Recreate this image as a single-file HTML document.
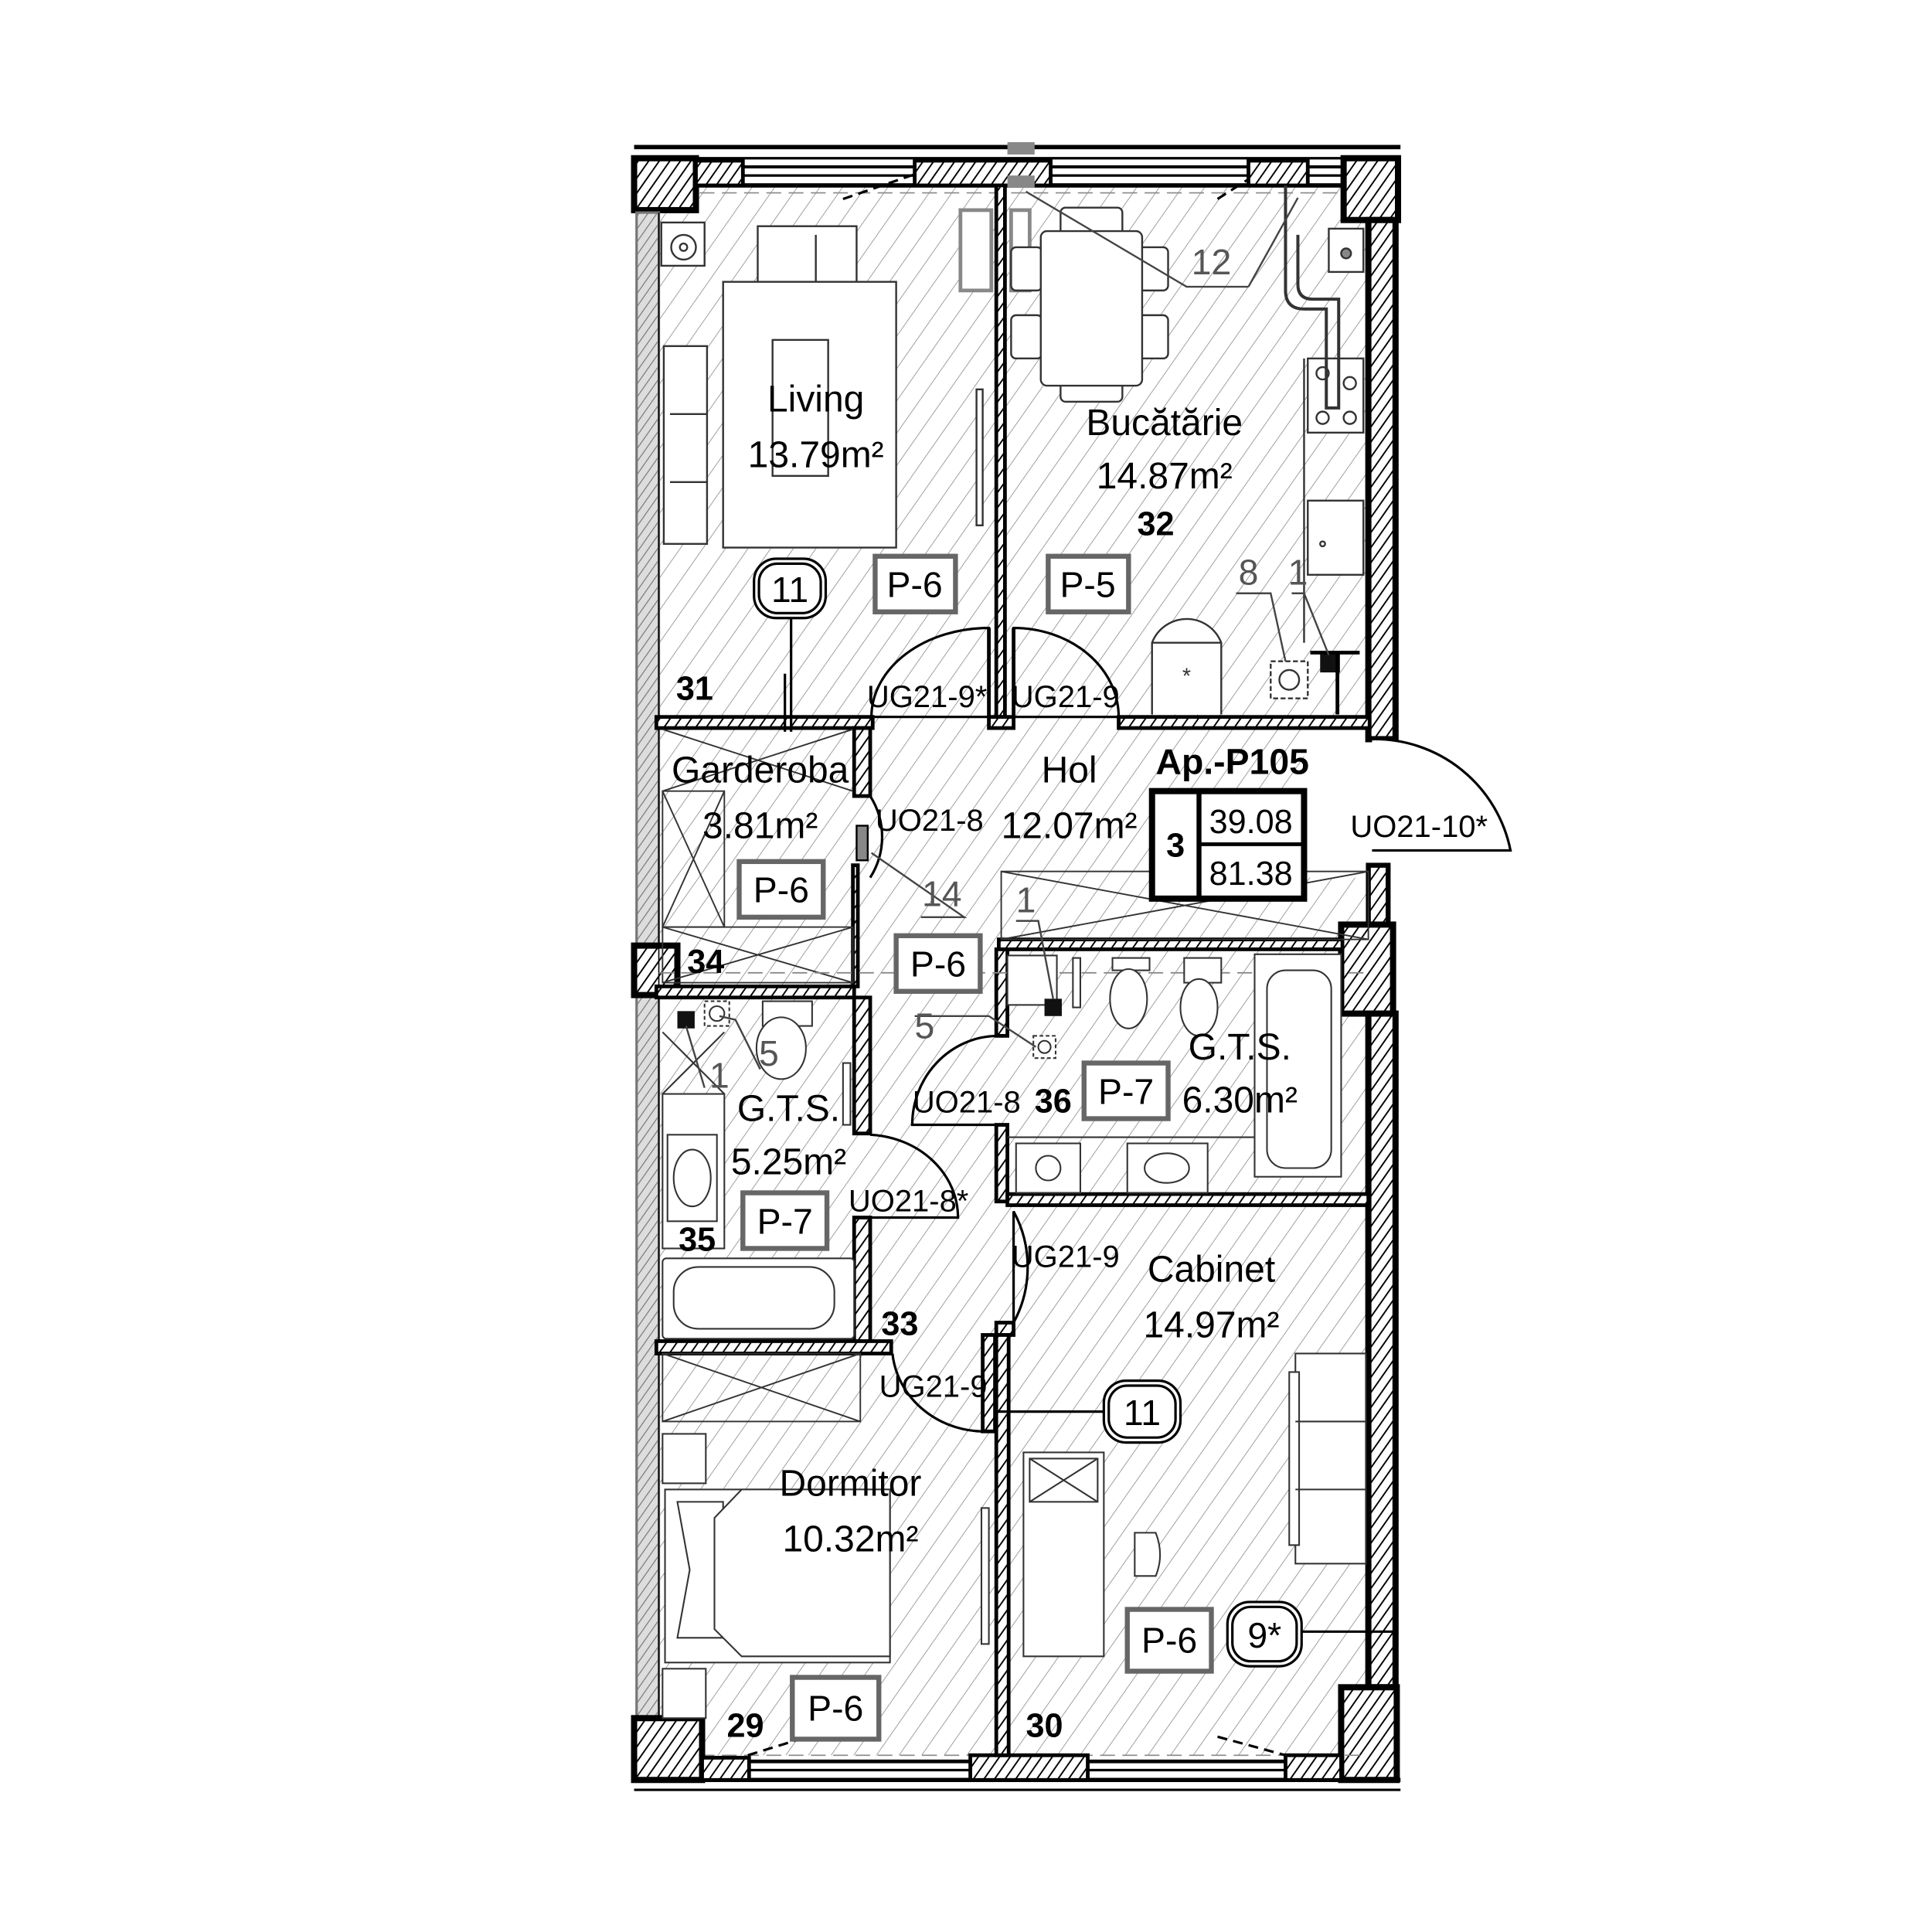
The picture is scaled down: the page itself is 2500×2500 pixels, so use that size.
<!DOCTYPE html>
<html><head><meta charset="utf-8">
<style>
html,body{margin:0;padding:0;background:#fff;}
svg{display:block;}
text{font-family:"Liberation Sans",sans-serif;}
</style></head>
<body>
<svg width="2500" height="2500" viewBox="0 0 1563 1563" xmlns="http://www.w3.org/2000/svg">
<defs>
<pattern id="h" patternUnits="userSpaceOnUse" width="15" height="15" patternTransform="rotate(35)">
<line x1="0" y1="0" x2="0" y2="15" stroke="#888" stroke-width="1"/>
</pattern>
<pattern id="w" patternUnits="userSpaceOnUse" width="7" height="7" patternTransform="rotate(35)">
<rect width="7" height="7" fill="#fff"/>
<line x1="0" y1="0" x2="0" y2="7" stroke="#000" stroke-width="2.4"/>
</pattern>
<pattern id="g" patternUnits="userSpaceOnUse" width="6" height="6" patternTransform="rotate(35)">
<rect width="6" height="6" fill="#ddd"/>
<line x1="0" y1="0" x2="0" y2="6" stroke="#777" stroke-width="1.5"/>
</pattern>
</defs>
<rect width="1563" height="1563" fill="#fff"/>

<rect x="530" y="150" width="580" height="1270" fill="url(#h)"/>
<rect x="1055" y="590" width="55" height="120" fill="#fff"/>

<g stroke="#000" fill="none">
<line x1="513" y1="119" x2="1133" y2="119" stroke-width="3.5"/>
<line x1="513" y1="128" x2="1133" y2="128" stroke-width="2"/>
<line x1="560" y1="135" x2="1085" y2="135" stroke-width="2.5"/>
<line x1="560" y1="142" x2="1085" y2="142" stroke-width="2"/>
<line x1="560" y1="150" x2="1085" y2="150" stroke-width="3.5"/>
<line x1="530" y1="156" x2="1105" y2="156" stroke-width="1" stroke="#888" stroke-dasharray="12 6"/>
<line x1="682" y1="161" x2="740" y2="141" stroke-width="2" stroke-dasharray="8 5"/>
<line x1="985" y1="161" x2="1010" y2="145" stroke-width="2" stroke-dasharray="8 5"/>
</g>
<rect x="513" y="128" width="50" height="42" fill="url(#w)" stroke="#000" stroke-width="5"/>
<rect x="563" y="130" width="38" height="20" fill="url(#w)" stroke="#000" stroke-width="3"/>
<rect x="740" y="130" width="110" height="20" fill="url(#w)" stroke="#000" stroke-width="3"/>
<rect x="1010" y="130" width="48" height="20" fill="url(#w)" stroke="#000" stroke-width="3"/>
<rect x="1087" y="128" width="44" height="50" fill="url(#w)" stroke="#000" stroke-width="5"/>
<rect x="815" y="115" width="22" height="10" fill="#888"/>
<rect x="815" y="142" width="22" height="10" fill="#888"/>

<rect x="515" y="172" width="18" height="595" fill="url(#g)" stroke="#777" stroke-width="2"/>
<rect x="515" y="805" width="18" height="585" fill="url(#g)" stroke="#777" stroke-width="2"/>
<rect x="513" y="765" width="35" height="40" fill="url(#w)" stroke="#000" stroke-width="5"/>
<line x1="533" y1="172" x2="533" y2="1390" stroke="#000" stroke-width="1"/>

<rect x="1107" y="178" width="22" height="420" fill="url(#w)" stroke="#000" stroke-width="5"/>
<rect x="1107" y="700" width="16" height="50" fill="url(#w)" stroke="#000" stroke-width="4"/>
<rect x="1085" y="748" width="42" height="72" fill="url(#w)" stroke="#000" stroke-width="5"/>
<rect x="1107" y="820" width="22" height="545" fill="url(#w)" stroke="#000" stroke-width="5"/>
<path d="M1110 598 A112 112 0 0 1 1222 688 L1110 688" fill="#fff" stroke="#000" stroke-width="2"/>
<rect x="1085" y="1365" width="45" height="75" fill="url(#w)" stroke="#000" stroke-width="5"/>

<g stroke="#000" fill="none">
<line x1="530" y1="1420" x2="1105" y2="1420" stroke-width="1" stroke="#888" stroke-dasharray="12 6"/>
<line x1="570" y1="1425" x2="1085" y2="1425" stroke-width="3"/>
<line x1="570" y1="1432" x2="1085" y2="1432" stroke-width="2"/>
<line x1="513" y1="1440" x2="1133" y2="1440" stroke-width="3.5"/>
<line x1="513" y1="1448" x2="1133" y2="1448" stroke-width="2"/>
<line x1="605" y1="1420" x2="660" y2="1403" stroke-width="2" stroke-dasharray="8 5"/>
<line x1="985" y1="1405" x2="1040" y2="1420" stroke-width="2" stroke-dasharray="8 5"/>
</g>
<rect x="513" y="1390" width="55" height="50" fill="url(#w)" stroke="#000" stroke-width="5"/>
<rect x="568" y="1422" width="38" height="18" fill="url(#w)" stroke="#000" stroke-width="3"/>
<rect x="785" y="1420" width="95" height="20" fill="url(#w)" stroke="#000" stroke-width="3"/>
<rect x="1040" y="1420" width="45" height="20" fill="url(#w)" stroke="#000" stroke-width="3"/>

<g fill="url(#w)" stroke="#000" stroke-width="3">
<rect x="806" y="150" width="7" height="430"/>
<rect x="531" y="580" width="175" height="9"/>
<rect x="800" y="580" width="20" height="9"/>
<rect x="905" y="580" width="203" height="9"/>
<rect x="691" y="589" width="13" height="55"/>
<rect x="531" y="798" width="160" height="9"/>
<rect x="690" y="700" width="4" height="98"/>
<rect x="691" y="807" width="13" height="110"/>
<rect x="691" y="985" width="13" height="100"/>
<rect x="531" y="1085" width="190" height="10"/>
<rect x="808" y="760" width="278" height="8"/>
<rect x="806" y="768" width="9" height="70"/>
<rect x="806" y="910" width="9" height="62"/>
<rect x="815" y="966" width="292" height="9"/>
<rect x="806" y="1070" width="14" height="10"/>
<rect x="806" y="1080" width="10" height="340"/>
<rect x="795" y="1080" width="10" height="78"/>
</g>

<g fill="#fff" stroke="#000" stroke-width="2">
<path d="M800 508 L800 580 L705 580 A95 72 0 0 1 800 508 Z" fill="none"/>
<path d="M820 508 L820 580 L905 580 A85 72 0 0 0 820 508 Z" fill="none"/>
<path d="M704 644 A72 66 0 0 1 704 710" fill="none"/>
<path d="M704 918 A75 67 0 0 1 775 985 L704 985" fill="none"/>
<path d="M806 838 A70 72 0 0 0 738 910 L806 910" fill="none"/>
<path d="M820 980 A85 90 0 0 1 820 1070 Z" fill="none"/>
<path d="M800 1158 A75 70 0 0 1 722 1095" fill="none"/>
</g>
<g stroke="#000" stroke-width="3"><line x1="800" y1="508" x2="800" y2="580"/><line x1="820" y1="508" x2="820" y2="580"/></g>

<g fill="#fff" stroke="#333" stroke-width="1.5">
<rect x="535" y="180" width="35" height="35"/><circle cx="553" cy="200" r="10" fill="none"/><circle cx="553" cy="200" r="3" fill="none"/>
<rect x="613" y="183" width="80" height="45"/><line x1="660" y1="190" x2="660" y2="228"/>
<rect x="585" y="228" width="140" height="215"/>
<rect x="625" y="275" width="45" height="110" fill="none"/>
<rect x="537" y="280" width="35" height="160"/>
<line x1="542" y1="335" x2="572" y2="335"/><line x1="542" y1="390" x2="572" y2="390"/>
<rect x="790" y="315" width="5" height="110"/>
<rect x="777" y="170" width="25" height="65" stroke="#888" stroke-width="3"/>
<rect x="818" y="170" width="15" height="65" stroke="#888" stroke-width="3"/>
</g>
<g fill="#fff" stroke="#333" stroke-width="1.5">
<rect x="858" y="168" width="50" height="25" rx="4"/>
<rect x="858" y="300" width="50" height="25" rx="4"/>
<rect x="818" y="200" width="25" height="35" rx="4"/><rect x="818" y="255" width="25" height="35" rx="4"/>
<rect x="920" y="200" width="25" height="35" rx="4"/><rect x="920" y="255" width="25" height="35" rx="4"/>
<rect x="842" y="187" width="82" height="125" rx="5"/>
<rect x="1075" y="185" width="28" height="35"/><circle cx="1089" cy="205" r="4" fill="#888"/>
<rect x="1058" y="290" width="45" height="60"/>
<circle cx="1070" cy="302" r="5"/><circle cx="1092" cy="310" r="5"/><circle cx="1070" cy="338" r="5"/><circle cx="1092" cy="338" r="5"/>
<rect x="1058" y="405" width="45" height="60"/><circle cx="1070" cy="440" r="2"/>
<line x1="1055" y1="290" x2="1055" y2="520"/>
<path d="M932 578 L932 520 A30 30 0 0 1 988 520 L988 578"/><line x1="932" y1="520" x2="988" y2="520"/>
<rect x="1028" y="535" width="30" height="30" stroke-dasharray="4 2"/><circle cx="1043" cy="550" r="8" fill="none"/>
<path d="M1050 190 L1050 230 Q1050 242 1062 242 L1083 242 L1083 330 L1073 330 L1073 250 L1055 250 Q1040 250 1040 235 L1040 150" fill="none" stroke-width="2.5"/>
</g>
<text x="960" y="553" font-size="18" text-anchor="middle" fill="#333">*</text>
<rect x="1068" y="528" width="16" height="16" fill="#111"/>
<line x1="1060" y1="528" x2="1100" y2="528" stroke="#000" stroke-width="3"/>
<line x1="1082" y1="528" x2="1082" y2="578" stroke="#000" stroke-width="3"/>

<g fill="none" stroke="#333" stroke-width="1.2">
<rect x="536" y="640" width="50" height="110"/><line x1="536" y1="640" x2="586" y2="750"/><line x1="586" y1="640" x2="536" y2="750"/>
<rect x="536" y="750" width="154" height="45"/><line x1="536" y1="750" x2="690" y2="795"/><line x1="690" y1="750" x2="536" y2="795"/>
<line x1="536" y1="590" x2="690" y2="640"/><line x1="690" y1="590" x2="536" y2="640"/>
<rect x="810" y="705" width="297" height="55"/><line x1="810" y1="705" x2="1107" y2="760"/><line x1="1107" y1="705" x2="810" y2="760"/>
<rect x="536" y="1095" width="160" height="55"/><line x1="536" y1="1095" x2="696" y2="1150"/><line x1="696" y1="1095" x2="536" y2="1150"/>
<line x1="533" y1="787" x2="1107" y2="787" stroke="#888" stroke-dasharray="12 6"/>
</g>
<rect x="693" y="668" width="9" height="28" fill="#888" stroke="#000" stroke-width="1.5"/>

<g fill="#fff" stroke="#333" stroke-width="1.3">
<rect x="570" y="810" width="20" height="20" stroke-dasharray="3 2"/><circle cx="580" cy="820" r="6"/>
<rect x="617" y="810" width="40" height="20"/><ellipse cx="632" cy="848" rx="20" ry="25"/>
<rect x="536" y="885" width="50" height="125"/><rect x="540" y="918" width="40" height="70"/><ellipse cx="560" cy="953" rx="15" ry="23"/>
<line x1="536" y1="885" x2="586" y2="835"/><line x1="536" y1="835" x2="586" y2="885"/>
<rect x="682" y="860" width="6" height="50"/>
<rect x="536" y="1018" width="155" height="65" rx="3"/><rect x="545" y="1025" width="130" height="50" rx="20"/>
</g>
<rect x="548" y="818" width="14" height="14" fill="#111"/>

<g fill="#fff" stroke="#333" stroke-width="1.3">
<rect x="815" y="773" width="40" height="40"/>
<rect x="836" y="838" width="18" height="18" stroke-dasharray="3 2"/><circle cx="845" cy="847" r="5"/>
<rect x="868" y="775" width="6" height="40"/>
<rect x="900" y="775" width="30" height="10"/><ellipse cx="913" cy="808" rx="15" ry="24"/>
<rect x="958" y="775" width="30" height="20"/><ellipse cx="970" cy="815" rx="15" ry="23"/>
<rect x="1015" y="772" width="70" height="180"/><rect x="1025" y="785" width="52" height="160" rx="15"/>
<line x1="815" y1="920" x2="1015" y2="920"/>
<rect x="822" y="925" width="52" height="40"/><circle cx="848" cy="945" r="10" fill="none"/>
<rect x="912" y="925" width="65" height="40"/><ellipse cx="944" cy="945" rx="18" ry="12"/>
</g>
<rect x="845" y="808" width="14" height="14" fill="#111"/>

<g fill="#fff" stroke="#333" stroke-width="1.3">
<rect x="536" y="1160" width="35" height="40"/>
<rect x="538" y="1205" width="182" height="140"/>
<path d="M548 1215 L585 1215 L585 1325 L548 1325 L558 1270 Z"/>
<path d="M600 1205 L720 1205 L720 1340 L600 1340 L578 1318 L578 1228 Z"/>
<rect x="794" y="1220" width="6" height="110"/>
<rect x="536" y="1350" width="35" height="40"/>
</g>
<g fill="#fff" stroke="#333" stroke-width="1.3">
<rect x="828" y="1175" width="65" height="165"/><rect x="833" y="1180" width="55" height="35"/>
<line x1="833" y1="1180" x2="888" y2="1215"/><line x1="888" y1="1180" x2="833" y2="1215"/>
<path d="M918 1240 L935 1240 Q942 1258 935 1275 L918 1275 Z"/>
<rect x="1048" y="1095" width="57" height="170"/><rect x="1043" y="1110" width="8" height="140"/>
<line x1="1048" y1="1150" x2="1105" y2="1150"/><line x1="1048" y1="1205" x2="1105" y2="1205"/>
</g>
<line x1="805" y1="1142" x2="895" y2="1142" stroke="#000" stroke-width="2"/>
<line x1="1040" y1="1320" x2="1130" y2="1320" stroke="#000" stroke-width="2"/>
<line x1="635" y1="545" x2="635" y2="592" stroke="#000" stroke-width="2"/>
<line x1="640" y1="497" x2="640" y2="592" stroke="#000" stroke-width="2"/>

<g stroke="#444" stroke-width="1.5" fill="none">
<path d="M1010 232 L960 232 L830 155"/><path d="M1010 232 L1050 160"/>
<path d="M1000 480 L1028 480 L1040 535"/><path d="M1045 480 L1055 480 L1075 530"/>
<path d="M745 742 L780 742 L705 690"/>
<path d="M822 745 L840 745 L852 808"/>
<path d="M740 822 L800 822 L838 847"/>
<path d="M570 880 L555 830"/><path d="M615 865 L595 825 L582 822"/>
</g>

<g font-size="30" fill="#000" text-anchor="middle">
<text x="660" y="333">Living</text><text x="660" y="378">13.79m²</text>
<text x="942" y="352">Bucătărie</text><text x="942" y="395">14.87m²</text>
<text x="615" y="633">Garderoba</text><text x="615" y="678">3.81m²</text>
<text x="865" y="633">Hol</text><text x="865" y="678">12.07m²</text>
<text x="638" y="907">G.T.S.</text><text x="638" y="950">5.25m²</text>
<text x="1003" y="857">G.T.S.</text><text x="1003" y="900">6.30m²</text>
<text x="980" y="1037">Cabinet</text><text x="980" y="1082">14.97m²</text>
<text x="688" y="1210">Dormitor</text><text x="688" y="1255">10.32m²</text>
</g>
<g font-size="25" fill="#000" text-anchor="middle">
<text x="750" y="572">UG21-9*</text><text x="862" y="572">UG21-9</text>
<text x="752" y="672">UO21-8</text><text x="1148" y="677">UO21-10*</text>
<text x="782" y="900">UO21-8</text><text x="735" y="980">UO21-8*</text>
<text x="862" y="1025">UG21-9</text><text x="755" y="1130">UG21-9</text>
</g>
<g font-size="29" fill="#555" text-anchor="middle">
<text x="980" y="222">12</text><text x="1010" y="473">8</text><text x="1050" y="473">1</text>
<text x="762" y="733">14</text><text x="830" y="738">1</text><text x="748" y="840">5</text>
<text x="622" y="862">5</text><text x="582" y="880">1</text>
</g>
<g font-size="27" font-weight="bold" fill="#000" text-anchor="middle">
<text x="562" y="566">31</text><text x="935" y="433">32</text><text x="571" y="787">34</text>
<text x="564" y="1012">35</text><text x="728" y="1080">33</text><text x="852" y="900">36</text>
<text x="603" y="1405">29</text><text x="845" y="1405">30</text>
<text x="997" y="626" font-size="29">Ap.-P105</text>
</g>

<g fill="#fff" stroke="#666" stroke-width="4">
<rect x="708" y="450" width="65" height="45"/><rect x="848" y="450" width="65" height="45"/>
<rect x="598" y="697" width="68" height="45"/><rect x="725" y="757" width="68" height="45"/>
<rect x="877" y="860" width="68" height="45"/><rect x="601" y="965" width="68" height="45"/>
<rect x="912" y="1302" width="68" height="50"/><rect x="641" y="1357" width="70" height="50"/>
</g>
<g fill="none" stroke="#fff" stroke-width="1.2">
<rect x="711" y="453" width="59" height="39"/><rect x="851" y="453" width="59" height="39"/>
<rect x="601" y="700" width="62" height="39"/><rect x="728" y="760" width="62" height="39"/>
<rect x="880" y="863" width="62" height="39"/><rect x="604" y="968" width="62" height="39"/>
<rect x="915" y="1305" width="62" height="44"/><rect x="644" y="1360" width="64" height="44"/>
</g>
<g font-size="29" fill="#000" text-anchor="middle">
<text x="740" y="483">P-6</text><text x="880" y="483">P-5</text>
<text x="632" y="730">P-6</text><text x="759" y="790">P-6</text>
<text x="911" y="893">P-7</text><text x="635" y="998">P-7</text>
<text x="946" y="1337">P-6</text><text x="676" y="1392">P-6</text>
</g>
<g fill="#fff" stroke="#000" stroke-width="2">
<rect x="610" y="452" width="58" height="48" rx="18"/><rect x="614" y="456" width="50" height="40" rx="15"/>
<rect x="893" y="1117" width="62" height="50" rx="18"/><rect x="897" y="1121" width="54" height="42" rx="15"/>
<rect x="993" y="1296" width="60" height="52" rx="18"/><rect x="997" y="1300" width="52" height="44" rx="15"/>
</g>
<g font-size="29" fill="#000" text-anchor="middle">
<text x="639" y="487">11</text><text x="924" y="1153">11</text><text x="1023" y="1333">9*</text>
</g>
<rect x="932" y="640" width="123" height="87" fill="#fff" stroke="#000" stroke-width="5"/>
<line x1="970" y1="640" x2="970" y2="727" stroke="#000" stroke-width="4"/>
<line x1="970" y1="683" x2="1055" y2="683" stroke="#000" stroke-width="3"/>
<text x="951" y="693" font-size="27" font-weight="bold" text-anchor="middle">3</text>
<text x="1012" y="674" font-size="27" text-anchor="middle">39.08</text>
<text x="1012" y="716" font-size="27" text-anchor="middle">81.38</text>
</svg>
</body></html>
